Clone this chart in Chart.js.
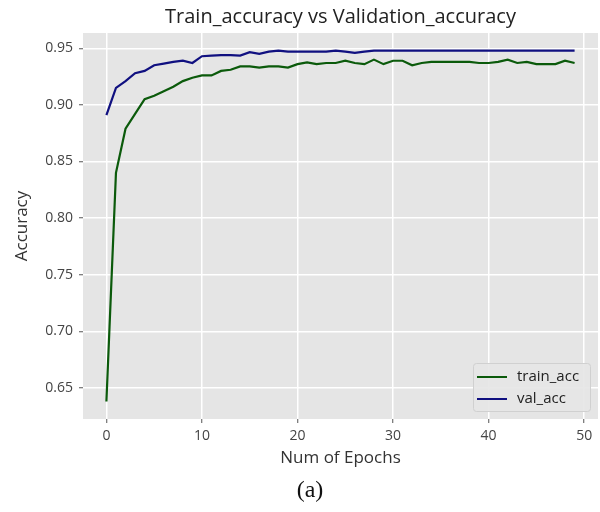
<!DOCTYPE html>
<html>
<head>
<meta charset="utf-8">
<script src="https://cdn.jsdelivr.net/npm/chart.js@4.4.1/dist/chart.umd.min.js"></script>
<style>
  body { margin: 0; background: #fff; }
  #wrap { position: relative; width: 600px; height: 512px; }
  #caption { position: absolute; left: 20px; width: 580px; top: 476px; text-align: center;
             font-family: "Liberation Serif", "DejaVu Serif", serif; font-size: 24px; color: #111; }
</style>
</head>
<body>
<div id="wrap">
  <canvas id="accChart" width="600" height="512"></canvas>
  <div id="caption">(a)</div>
</div>
<script>
// values
var epochs = [];
for (var i = 0; i < 50; i++) epochs.push(i);

var trainAcc = [0.638, 0.840, 0.879, 0.892, 0.905, 0.908, 0.912, 0.916, 0.921, 0.924,
                0.926, 0.926, 0.930, 0.931, 0.934, 0.934, 0.933, 0.934, 0.934, 0.933,
                0.936, 0.9375, 0.936, 0.937, 0.937, 0.939, 0.937, 0.936, 0.940, 0.936,
                0.939, 0.939, 0.935, 0.937, 0.938, 0.938, 0.938, 0.938, 0.938, 0.937,
                0.937, 0.938, 0.940, 0.937, 0.938, 0.936, 0.936, 0.936, 0.939, 0.937];

var valAcc = [0.891, 0.915, 0.921, 0.928, 0.930, 0.935, 0.9365, 0.938, 0.939, 0.937,
              0.943, 0.9435, 0.944, 0.944, 0.9435, 0.9465, 0.945, 0.947, 0.948, 0.947,
              0.947, 0.947, 0.947, 0.947, 0.948, 0.947, 0.946, 0.947, 0.948, 0.948,
              0.948, 0.948, 0.948, 0.948, 0.948, 0.948, 0.948, 0.948, 0.948, 0.948,
              0.948, 0.948, 0.948, 0.948, 0.948, 0.948, 0.948, 0.948, 0.948, 0.948];

var xTicks = [0, 10, 20, 30, 40, 50];
var yTicks = [0.65, 0.70, 0.75, 0.80, 0.85, 0.90, 0.95];

function points(ys) {
  return ys.map(function (v, i) { return { x: epochs[i], y: v }; });
}

var tickFont = { family: "Open Sans", size: 14 };
var labelFont = { family: "Open Sans", size: 17 };

// grey panel + title + legend box, ggplot style
var ggplotLook = {
  id: 'ggplotLook',
  beforeDraw: function (chart) {
    var c = chart.ctx, a = chart.chartArea;
    c.save();
    c.fillStyle = '#e5e5e5';
    c.fillRect(a.left, a.top, a.right - a.left, a.bottom - a.top);
    c.restore();
  },
  afterDraw: function (chart) {
    var c = chart.ctx, a = chart.chartArea;
    c.save();
    c.fillStyle = '#222';
    c.font = '20px "Open Sans"';
    c.textAlign = 'center';
    c.textBaseline = 'middle';
    c.fillText('Train_accuracy vs Validation_accuracy', (a.left + a.right) / 2, 17);

    // legend
    var lx = 473, ly = 363, lw = 117, lh = 48;
    c.fillStyle = 'rgba(229,229,229,0.9)';
    c.strokeStyle = '#d0d0d0';
    c.lineWidth = 1;
    c.beginPath();
    c.roundRect(lx + 0.5, ly + 0.5, lw, lh, 3);
    c.fill();
    c.stroke();
    c.font = '15px "Open Sans"';
    c.textAlign = 'left';
    chart.data.datasets.forEach(function (ds, k) {
      var yy = ly + 14 + k * 22;
      c.strokeStyle = ds.borderColor;
      c.lineWidth = 2;
      c.beginPath();
      c.moveTo(lx + 4, yy);
      c.lineTo(lx + 34, yy);
      c.stroke();
      c.fillStyle = '#222';
      c.fillText(ds.label, lx + 44, yy);
    });
    c.restore();
  }
};

new Chart(document.getElementById('accChart'), {
  type: 'line',
  data: {
    datasets: [
      { label: 'train_acc', data: points(trainAcc), borderColor: '#0b5a0b', borderWidth: 2.2, pointRadius: 0, tension: 0 },
      { label: 'val_acc', data: points(valAcc), borderColor: '#101080', borderWidth: 2.2, pointRadius: 0, tension: 0 }
    ]
  },
  options: {
    responsive: false,
    animation: false,
    layout: { padding: { top: 33, right: 2, left: 8, bottom: 43 } },
    plugins: { legend: { display: false }, title: { display: false }, tooltip: { enabled: false } },
    scales: {
      x: {
        type: 'linear', min: -2.45, max: 51.45,
        afterBuildTicks: function (s) { s.ticks = xTicks.map(function (v) { return { value: v }; }); },
        afterFit: function (s) { s.height = 50; },
        border: { display: false },
        grid: { color: '#ffffff', lineWidth: 1.5, tickLength: 4, tickColor: '#555', tickWidth: 1 },
        ticks: { color: '#444', font: tickFont, padding: 5, maxRotation: 0 },
        title: { display: true, text: 'Num of Epochs', color: '#333', font: labelFont, padding: { top: 0, bottom: 1 } }
      },
      y: {
        min: 0.6225, max: 0.9635,
        afterBuildTicks: function (s) { s.ticks = yTicks.map(function (v) { return { value: v }; }); },
        afterFit: function (s) { s.width = 75; },
        border: { display: false },
        grid: { color: '#ffffff', lineWidth: 1.5, tickLength: 4, tickColor: '#555', tickWidth: 1 },
        ticks: { color: '#444', font: tickFont, padding: 6, callback: function (v) { return v.toFixed(2); } },
        title: { display: true, text: 'Accuracy', color: '#333', font: labelFont, padding: { top: 4, bottom: 0 } }
      }
    }
  },
  plugins: [ggplotLook]
});
</script>
</body>
</html>
